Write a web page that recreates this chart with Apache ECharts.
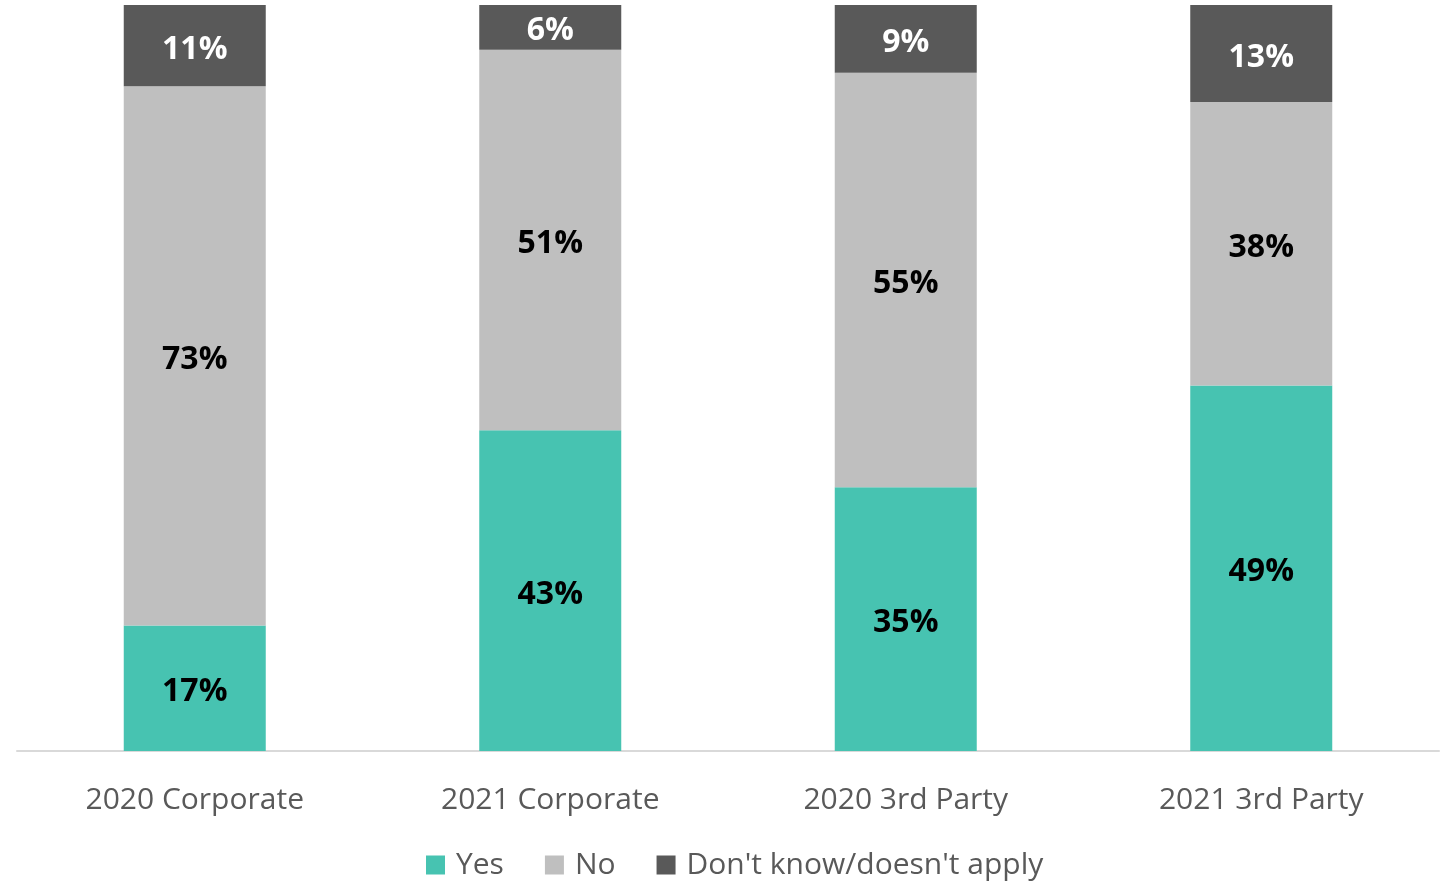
<!DOCTYPE html>
<html>
<head>
<meta charset="utf-8">
<script src="https://cdn.jsdelivr.net/npm/echarts@6/dist/echarts.min.js"></script>
<style>
  html, body { margin: 0; padding: 0; background: #ffffff; }
  #chart { width: 1448px; height: 886px; }
</style>
</head>
<body>
<div id="chart"></div>
<script>
// Survey answers by group (percent as reported)
const categories = ['2020 Corporate', '2021 Corporate', '2020 3rd Party', '2021 3rd Party'];
const yesValues = [17, 43, 35, 49];
const noValues = [73, 51, 55, 38];
const dkValues = [11, 6, 9, 13];
const seriesNames = ['Yes', 'No', "Don't know/doesn't apply"];

const rawSeries = [yesValues, noValues, dkValues];
const colors = ['#47c3b1', '#bfbfbf', '#595959'];
const labelColors = ['#000000', '#000000', '#ffffff'];

// Each column is drawn as a 100% stack: share of the column total
const totals = categories.map((_, i) => rawSeries.reduce((s, arr) => s + arr[i], 0));

const FONT = '"Open Sans", "Noto Sans", sans-serif';

const series = rawSeries.map((vals, si) => ({
  name: seriesNames[si],
  type: 'bar',
  stack: 'total',
  barWidth: 142,
  itemStyle: { color: colors[si] },
  label: {
    show: true,
    position: 'inside',
    offset: [0, 4],
    fontFamily: FONT,
    fontWeight: 'bold',
    fontSize: 32,
    color: labelColors[si],
    formatter: p => vals[p.dataIndex] + '%'
  },
  emphasis: { disabled: true },
  data: vals.map((v, i) => v / totals[i] * 100)
}));

const chart = echarts.init(document.getElementById('chart'), null, { renderer: 'canvas' });
chart.setOption({
  animation: false,
  backgroundColor: '#ffffff',
  grid: { left: 17, right: 9, top: 5, bottom: 135 },
  legend: {
    bottom: 1,
    left: 421,
    itemWidth: 19,
    itemHeight: 19,
    itemGap: 41,
    icon: 'rect',
    textStyle: { fontFamily: FONT, fontSize: 30, color: '#595959', padding: [0, 0, 0, 6] },
    data: seriesNames
  },
  xAxis: {
    type: 'category',
    data: categories,
    axisLine: { lineStyle: { color: '#d9d9d9', width: 2 } },
    axisTick: { show: false },
    axisLabel: { fontFamily: FONT, fontSize: 30, color: '#595959', margin: 34 }
  },
  yAxis: {
    type: 'value',
    min: 0,
    max: 100,
    show: false,
    splitLine: { show: false }
  },
  series
});
</script>
</body>
</html>
